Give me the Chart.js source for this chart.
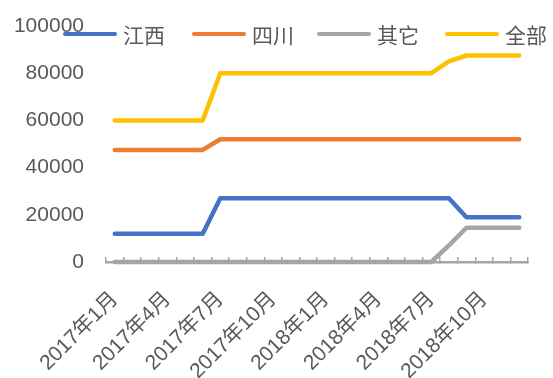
<!DOCTYPE html>
<html>
<head>
<meta charset="utf-8">
<script src="https://cdn.jsdelivr.net/npm/chart.js@4/dist/chart.umd.min.js"></script>
<style>
  html, body { margin: 0; padding: 0; background: #fff; }
  #wrap { position: relative; width: 553px; height: 378px; }
  #legend { position: absolute; left: 0; top: 0; width: 553px; height: 60px; pointer-events: none;
            font-family: "Liberation Sans", "Noto Sans CJK SC", sans-serif; font-size: 21px; color: #595959; }
  .item { position: absolute; top: 21px; height: 26px; display: flex; align-items: center; white-space: nowrap; }
  .swatch { display: inline-block; width: 54px; height: 4.5px; border-radius: 3px; margin-right: 6px; }
</style>
</head>
<body>
<div id="wrap">
  <canvas id="c" width="553" height="378"></canvas>
  <div id="legend"></div>
</div>
<script>
// Monthly categories, 2017-01 through 2018-12
const months = [
  '2017年1月','2017年2月','2017年3月','2017年4月','2017年5月','2017年6月',
  '2017年7月','2017年8月','2017年9月','2017年10月','2017年11月','2017年12月',
  '2018年1月','2018年2月','2018年3月','2018年4月','2018年5月','2018年6月',
  '2018年7月','2018年8月','2018年9月','2018年10月','2018年11月','2018年12月'
];

const seriesNames = ['江西', '四川', '其它', '全部'];

const jiangxi = [12000,12000,12000,12000,12000,12000,27000,27000,27000,27000,27000,27000,
                 27000,27000,27000,27000,27000,27000,27000,27000,19000,19000,19000,19000];
const sichuan = [47500,47500,47500,47500,47500,47500,52000,52000,52000,52000,52000,52000,
                 52000,52000,52000,52000,52000,52000,52000,52000,52000,52000,52000,52000];
const qita    = [0,0,0,0,0,0,0,0,0,0,0,0,
                 0,0,0,0,0,0,0,7000,14500,14500,14500,14500];
const quanbu  = [60000,60000,60000,60000,60000,60000,80000,80000,80000,80000,80000,80000,
                 80000,80000,80000,80000,80000,80000,80000,85000,87500,87500,87500,87500];

const yTicks = [0, 20000, 40000, 60000, 80000, 100000];

const colors = ['#4472C4', '#ED7D31', '#A5A5A5', '#FFC000'];
const values = [jiangxi, sichuan, qita, quanbu];

const fontFamily = '"Liberation Sans", "Noto Sans CJK SC", sans-serif';
Chart.defaults.font.family = fontFamily;
Chart.defaults.color = '#595959';

const datasets = seriesNames.map((name, i) => ({
  label: name,
  data: values[i],
  borderColor: colors[i],
  backgroundColor: colors[i],
  borderWidth: 4.5,
  pointRadius: 0,
  tension: 0,
  borderCapStyle: 'round',
  borderJoinStyle: 'round',
  clip: 6
}));

new Chart(document.getElementById('c'), {
  type: 'line',
  data: { labels: months, datasets },
  options: {
    responsive: false,
    animation: false,
    layout: { padding: { top: 26, right: 25, left: 0, bottom: 0 } },
    plugins: { legend: { display: false }, tooltip: { enabled: false } },
    scales: {
      x: {
        type: 'category',
        offset: true,
        afterFit: (s) => { s.height = 116; s.paddingLeft = 0; s.paddingRight = 0; },
        grid: {
          offset: true,
          drawOnChartArea: false,
          drawTicks: true,
          tickLength: -5,
          color: '#a6a6a6',
          lineWidth: 1.5
        },
        border: { display: true, color: '#a6a6a6', width: 2.5 },
        ticks: {
          autoSkip: false,
          maxRotation: 45,
          minRotation: 45,
          padding: 30,
          font: { size: 21 },
          color: '#595959',
          callback: function (v, idx) { return idx % 3 === 0 ? months[idx] : ''; }
        }
      },
      y: {
        min: 0,
        max: 100000,
        afterBuildTicks: (s) => { s.ticks = yTicks.map(v => ({ value: v })); },
        afterFit: (s) => { s.width = 106; s.paddingTop = 0; s.paddingBottom = 0; },
        grid: { display: false, drawTicks: false },
        border: { display: false },
        ticks: {
          padding: 22,
          font: { size: 21 },
          color: '#595959',
          callback: (v) => String(v)
        }
      }
    }
  }
});

// Legend row drawn over the top of the plot
const legend = document.getElementById('legend');
const legendLeft = [63, 192, 317, 445];
seriesNames.forEach((name, i) => {
  const item = document.createElement('div');
  item.className = 'item';
  item.style.left = legendLeft[i] + 'px';
  const sw = document.createElement('span');
  sw.className = 'swatch';
  sw.style.background = colors[i];
  const tx = document.createElement('span');
  tx.textContent = name;
  item.appendChild(sw);
  item.appendChild(tx);
  legend.appendChild(item);
});
</script>
</body>
</html>
